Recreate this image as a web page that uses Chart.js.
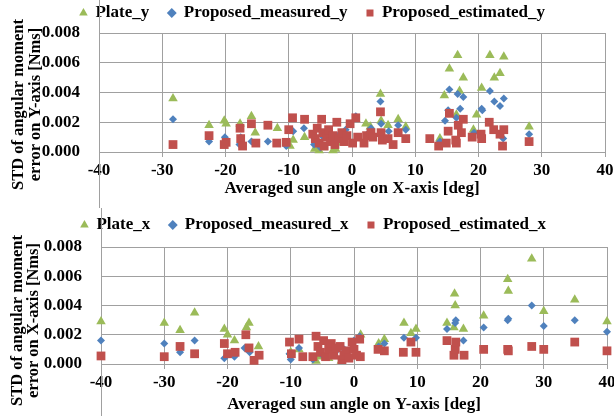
<!DOCTYPE html>
<html><head><meta charset="utf-8">
<script src="https://cdn.jsdelivr.net/npm/chart.js@4.4.0/dist/chart.umd.min.js"></script>
<style>
html,body{margin:0;padding:0;background:#fff;}
#wrap{position:relative;width:614px;height:416px;background:#fff;}
canvas{position:absolute;left:0;}
</style></head><body>
<div id="wrap">
<canvas id="c1" width="614" height="208" style="top:0"></canvas>
<canvas id="c2" width="614" height="208" style="top:208px"></canvas>
</div>
<script>
// ---------- Top chart: error on Y-axis vs averaged sun angle on X-axis ----------
const namesTop = ['Plate_y', 'Proposed_measured_y', 'Proposed_estimated_y'];
const plateY_ang = [-28.3,-22.6,-20.2,-19.9,-17.7,-15.9,-15.3,-11.8,-9.8,-9.3,-7.5,-5.9,-5.2,-4.5,-3.0,-2.6,-1.5,0.6,2.2,2.9,4.5,4.6,5.7,7.3,8.5,13.9,14.6,15.4,16.5,16.7,17.0,17.6,19.2,19.7,20.5,21.8,22.5,23.4,24.0,28.0];
const plateY_std = [0.0036,0.0018,0.0021,0.0019,0.0019,0.0024,0.0013,0.0016,0.0004,0.0008,0.0010,0.0002,0.0001,0.0003,0.0001,0.0002,0.0006,0.0022,0.0019,0.0017,0.0039,0.0021,0.0018,0.0022,0.0017,0.0009,0.0038,0.0056,0.0025,0.0065,0.0041,0.0050,0.0015,0.0025,0.0043,0.0065,0.0050,0.0053,0.0064,0.0017];
const measY_ang = [-28.3,-22.6,-20.1,-17.6,-17.8,-15.9,-13.3,-10.4,-9.3,-7.6,-6.0,-5.0,-4.5,-3.0,-2.0,-1.0,0.6,2.4,3.0,4.5,4.6,5.8,7.3,8.5,13.9,14.7,15.2,15.4,16.5,16.7,17.1,17.6,19.3,20.5,20.6,21.8,22.5,23.4,24.0,23.9,28.0];
const measY_std = [0.0022,0.0007,0.0010,0.0010,0.0005,0.0007,0.0007,0.0004,0.0014,0.0016,0.0005,0.0003,0.0010,0.0006,0.0012,0.0015,0.0024,0.0012,0.0016,0.0034,0.0019,0.0014,0.0018,0.0015,0.0007,0.0021,0.0028,0.0042,0.0023,0.0039,0.0029,0.0037,0.0013,0.0029,0.0028,0.0041,0.0034,0.0031,0.0036,0.0009,0.0012];
const estY_ang = [-28.3,-22.6,-19.9,-20.2,-17.7,-17.6,-17.3,-15.9,-15.2,-13.3,-11.9,-10.4,-10.0,-9.4,-7.5,-6.2,-5.8,-5.5,-5.2,-4.8,-4.6,-4.4,-4.0,-3.7,-3.4,-3.0,-2.7,-2.4,-2.0,-1.6,-1.2,-0.8,-0.3,0.1,0.6,0.9,1.9,2.3,3.0,3.3,4.5,4.6,4.8,5.7,6.5,7.3,8.5,12.3,13.7,14.9,15.2,15.4,16.4,16.5,16.8,17.3,17.6,19.0,20.4,20.5,21.7,22.4,23.4,23.8,24.0,28.0];
const estY_std = [0.0005,0.0011,0.00065,0.0005,0.0016,0.0009,0.0004,0.0019,0.0006,0.0018,0.0006,0.00065,0.0015,0.0023,0.0022,0.0012,0.0009,0.0016,0.0006,0.0022,0.0013,0.0004,0.0010,0.0015,0.0007,0.0011,0.0005,0.0020,0.0009,0.0013,0.0007,0.0011,0.0019,0.0006,0.0023,0.0010,0.0006,0.0011,0.0013,0.0010,0.0027,0.0013,0.0008,0.0009,0.0005,0.0013,0.0009,0.0009,0.0004,0.0006,0.0014,0.0026,0.0008,0.0006,0.0018,0.0013,0.0022,0.0010,0.0012,0.0009,0.0020,0.0015,0.0012,0.0004,0.0015,0.0007];

// ---------- Bottom chart: error on X-axis vs averaged sun angle on Y-axis ----------
const namesBottom = ['Plate_x', 'Proposed_measured_x', 'Proposed_estimated_x'];
const plateX_ang = [-40,-30,-27.5,-25.2,-20.5,-20.0,-18.9,-17.0,-16.6,-15.1,-10.0,-8.7,-6.0,-5.5,-4.0,-2.0,-1.0,1.05,3.9,4.8,7.9,9.0,9.8,14.7,15.8,15.9,16.0,17.3,20.5,24.3,24.4,28.1,30.0,34.9,40.0];
const plateX_std = [0.0029,0.0028,0.0023,0.0035,0.0024,0.0020,0.0016,0.0025,0.0028,0.0012,0.0008,0.0010,0.0002,0.0005,0.0004,0.0002,0.0005,0.0020,0.0014,0.0017,0.0028,0.0021,0.0024,0.0028,0.0025,0.0048,0.0040,0.0024,0.0033,0.0058,0.0050,0.0072,0.0036,0.0044,0.0029];
const measX_ang = [-40,-30,-27.5,-25.2,-20.5,-19.6,-18.9,-17.3,-16.5,-10.2,-10.0,-8.7,-6.5,-5.0,-3.0,-1.5,0.0,0.9,3.9,4.8,7.9,9.8,14.7,16.0,16.1,17.3,20.5,24.3,24.4,28.1,30.0,34.9,40.0];
const measX_std = [0.0016,0.0014,0.0008,0.0016,0.0004,0.0007,0.0005,0.0011,0.0008,0.0007,0.0003,0.0011,0.0003,0.0006,0.0008,0.0010,0.0016,0.0019,0.0012,0.0014,0.0018,0.0018,0.0024,0.0028,0.0030,0.0016,0.0025,0.0030,0.0031,0.0040,0.0026,0.0030,0.0022];
const estX_ang = [-40,-30,-27.5,-25.2,-20.5,-20.0,-18.8,-17.1,-16.6,-15.8,-15.0,-10.2,-9.9,-8.7,-8.1,-6.5,-6.0,-5.7,-5.3,-4.8,-4.5,-4.0,-3.6,-3.2,-2.8,-2.2,-1.9,-1.6,-1.2,-0.8,-0.3,0.0,0.4,0.9,1.0,3.8,4.8,7.8,9.0,9.8,14.7,15.8,16.0,16.1,17.4,20.5,24.3,24.4,28.1,30.0,34.9,40.0];
const estX_std = [0.00055,0.0005,0.0012,0.0007,0.0014,0.0007,0.0008,0.0020,0.0011,0.00025,0.0006,0.0015,0.0007,0.0017,0.0005,0.0005,0.0019,0.0012,0.0008,0.0016,0.0005,0.0010,0.0014,0.0006,0.0011,0.0012,0.0003,0.0006,0.0009,0.0004,0.0015,0.0010,0.0006,0.0017,0.0005,0.0010,0.0009,0.0008,0.0015,0.0008,0.0016,0.0006,0.0010,0.0015,0.0006,0.0010,0.0010,0.0009,0.0012,0.0010,0.0015,0.0009];

const yTicks = [0, 0.002, 0.004, 0.006, 0.008];
const xTicks = [-40, -30, -20, -10, 0, 10, 20, 30, 40];

const FONT = "'Liberation Serif','Times New Roman',Times,serif";
const GRID = '#a0a0a0';
const GREEN = '#9BBB59', BLUE = '#4F81BD', RED = '#C0504D';
const FS = 17;

function pts(xs, ys) { return xs.map((x, i) => ({ x: x, y: ys[i] })); }
function f(size) { return { family: FONT, size: size, weight: 'bold' }; }

const whiteBg = {
  id: 'whiteBg',
  beforeDraw(c) { const ctx = c.ctx; ctx.save(); ctx.fillStyle = '#fff'; ctx.fillRect(0, 0, c.width, c.height); ctx.restore(); }
};
// Excel centres the vertical axis title a little lower than the plot and lets it run longer
// than the plot height; move/widen the y scale's title band while drawing only.
const yTitleShift = {
  id: 'yTitleShift',
  beforeDraw(c, args, opts) { const s = c.scales.y; s._t = s.top; s._b = s.bottom; s.top += opts.shift - 60; s.bottom += opts.shift + 60; },
  afterDraw(c) { const s = c.scales.y; s.top = s._t; s.bottom = s._b; }
};

function build(id, plate, meas, est, names, xTitle, yTitle, g) {
  const datasets = [
    { label: names[2], data: pts(est[0], est[1]), pointStyle: 'rect', pointRadius: 6.2, pointHoverRadius: 6.2,
      backgroundColor: RED, borderColor: RED, borderWidth: 0, pointBorderWidth: 0, clip: false },
    { label: names[1], data: pts(meas[0], meas[1]), pointStyle: 'rectRot', pointRadius: 4, pointHoverRadius: 4,
      backgroundColor: BLUE, borderColor: BLUE, borderWidth: 0, pointBorderWidth: 0, clip: false },
    { label: names[0], data: pts(plate[0], plate[1]), pointStyle: 'triangle', pointRadius: 5.5, pointHoverRadius: 5.5,
      backgroundColor: GREEN, borderColor: GREEN, borderWidth: 0, pointBorderWidth: 0, clip: false }
  ];
  return new Chart(document.getElementById(id), {
    type: 'scatter',
    data: { datasets: datasets },
    plugins: [whiteBg, yTitleShift],
    options: {
      responsive: false, animation: false, devicePixelRatio: 1,
      layout: { padding: { left: g.padL, right: g.padR, top: g.padT, bottom: 0 } },
      plugins: {
        legend: {
          position: 'top',
          labels: { usePointStyle: true, boxWidth: 7, boxHeight: 7, padding: 19, color: '#000', font: f(FS),
                    sort: (a, b) => b.datasetIndex - a.datasetIndex }
        },
        subtitle: { display: true, text: '', position: 'top', weight: 0, padding: 0,
                    font: { size: 1, lineHeight: g.gap + 'px' } },
        tooltip: { enabled: false },
        yTitleShift: { shift: g.yShift }
      },
      scales: {
        x: {
          type: 'linear', min: xTicks[0], max: xTicks[xTicks.length - 1],
          afterBuildTicks(s) { s.ticks = xTicks.map(v => ({ value: v })); },
          ticks: { color: '#000', font: f(FS), padding: 3, maxRotation: 0 },
          grid: { color: GRID, tickLength: 5, drawTicks: true },
          border: { color: GRID },
          title: { display: true, text: xTitle, color: '#000', font: f(FS), padding: { top: 0, bottom: g.xtPad } },
          afterFit(s) { s.height = g.xH; s.paddingLeft = 0; s.paddingRight = 0; }
        },
        y: {
          type: 'linear', min: yTicks[0], max: yTicks[yTicks.length - 1],
          afterBuildTicks(s) { s.ticks = yTicks.map(v => ({ value: v })); },
          ticks: { color: '#000', font: f(FS), padding: 19, callback: v => v.toFixed(3) },
          grid: { color: GRID, drawTicks: false },
          border: { color: GRID },
          title: { display: true, text: yTitle, color: '#000', font: { family: FONT, size: 16.5, weight: 'bold', lineHeight: 1.0 },
                   padding: { top: g.ytPad, bottom: 0 } },
          afterFit(s) { s.width = g.yW; s.paddingTop = 0; s.paddingBottom = 0; }
        }
      }
    }
  });
}

build('c1', [plateY_ang, plateY_std], [measY_ang, measY_std], [estY_ang, estY_std], namesTop,
  'Averaged sun angle on X-axis [deg]', ['STD of angular moment', 'error on Y-axis [Nms]'],
  { padL: 20, padR: 9, padT: -14.5, gap: 1.5, yW: 79, xH: 56, xtPad: 8.8, ytPad: -9.3, yShift: 12 });
build('c2', [plateX_ang, plateX_std], [measX_ang, measX_std], [estX_ang, estX_std], namesBottom,
  'Averaged sun angle on Y-axis [deg]', ['STD of angular moment', 'error on X-axis [Nms]'],
  { padL: 20, padR: 7, padT: -10.5, gap: 3.5, yW: 81, xH: 52, xtPad: 0.8, ytPad: -11, yShift: 15 });
</script>
</body></html>
